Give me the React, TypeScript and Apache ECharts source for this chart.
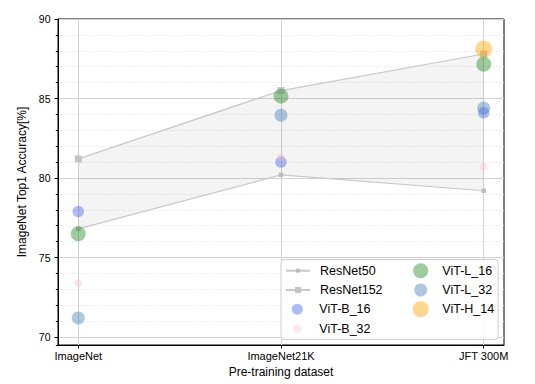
import React, { useEffect, useRef } from 'react';
import * as echarts from 'echarts';

const datasets = ['ImageNet', 'ImageNet21K', 'JFT 300M'];
const resnet50 = [76.8, 80.2, 79.2];
const resnet152 = [81.2, 85.5, 87.8];
const vitB16 = [77.9, 81.0, 84.1];
const vitB32 = [73.4, 81.3, 80.7];
const vitL16 = [76.5, 85.15, 87.15];
const vitL32 = [71.2, 83.95, 84.4];
const vitH14: (number | null)[] = [null, null, 88.1];
const yTickValues = [70, 75, 80, 85, 90];
const xTickValues = [0, 1, 2];

const FONT = 'Liberation Sans, Arial, sans-serif';

const toPoints = (vals: (number | null)[]) =>
  vals.map((v, i) => (v == null ? null : [i, v])).filter((p) => p !== null);

export default function App() {
  const ref = useRef<HTMLDivElement>(null);
  useEffect(() => {
    if (!ref.current) return;
    const chart = echarts.init(ref.current, null, { renderer: 'svg' });

    const scatter = (name: string, vals: (number | null)[], color: string, size: number, z: number) => ({
      name,
      type: 'scatter',
      data: toPoints(vals),
      symbol: 'circle',
      symbolSize: size,
      itemStyle: { color },
      z,
      silent: true,
    });

    const textStyle = (pad: number) => ({
      fontFamily: FONT,
      fontSize: 12.5,
      color: '#000',
      lineHeight: 14,
      padding: [0, 0, 0, pad],
    });
    const lineLegend = (name: string, x0: number, cy: number, h: number) => ({
      data: [{ name }],
      left: x0,
      top: cy - Math.max(h, 14) / 2,
      orient: 'vertical',
      itemWidth: 24,
      itemHeight: h,
      padding: 0,
      selectedMode: false,
      z: 10,
      textStyle: textStyle(5),
    });
    const circleLegend = (name: string, cx: number, textX: number, cy: number, h: number) => ({
      data: [{ name, icon: 'circle' }],
      left: cx - h / 2,
      top: cy - Math.max(h, 14) / 2,
      orient: 'vertical',
      itemWidth: h,
      itemHeight: h,
      padding: 0,
      selectedMode: false,
      z: 10,
      textStyle: textStyle(textX - (cx + h / 2 + 5)),
    });

    const option: any = {
      animation: false,
      backgroundColor: '#fff',
      grid: {
        left: 58,
        right: 31,
        top: 19,
        bottom: 39,
        show: true,
        borderColor: '#000',
        borderWidth: 1,
        backgroundColor: 'transparent',
        outerBoundsMode: 'none',
        containLabel: false,
      },
      xAxis: {
        type: 'value',
        min: -0.1,
        max: 2.1,
        splitNumber: 2,
        name: 'Pre-training dataset',
        nameLocation: 'middle',
        nameGap: 18,
        nameTextStyle: { fontFamily: FONT, fontSize: 12, color: '#000' },
        axisLine: { show: true, onZero: false, lineStyle: { color: '#000', width: 1 } },
        axisTick: { show: true, length: 3.5, lineStyle: { color: '#000' }, customValues: xTickValues },
        axisLabel: {
          fontFamily: FONT,
          fontSize: 11,
          color: '#000',
          margin: 5,
          customValues: xTickValues,
          formatter: (v: number) => (Number.isInteger(v) && datasets[v] ? datasets[v] : ''),
        },
        splitLine: { show: true, lineStyle: { color: '#d3d3d3', width: 1 } },
      },
      yAxis: [
        {
          type: 'value',
          min: 69.5,
          max: 90,
          splitNumber: 5,
          name: 'ImageNet Top1 Accuracy[%]',
          nameLocation: 'middle',
          nameGap: 23,
          nameTextStyle: { fontFamily: FONT, fontSize: 12, color: '#000' },
          axisLine: { show: true, onZero: false, lineStyle: { color: '#000', width: 1 } },
          axisTick: { show: true, length: 3.5, lineStyle: { color: '#000' }, customValues: yTickValues },
          axisLabel: {
            fontFamily: FONT,
            fontSize: 10.5,
            color: '#000',
            margin: 7.5,
            customValues: yTickValues,
            formatter: (v: number) => (yTickValues.includes(v) ? String(v) : ''),
          },
          splitLine: { show: true, lineStyle: { color: '#d3d3d3', width: 1 } },
          z: 1,
        },
        {
          type: 'value',
          min: 69.5,
          max: 90,
          splitNumber: 20,
          position: 'left',
          offset: 0,
          axisLine: { show: false, onZero: false },
          axisTick: { show: true, length: 2.2, lineStyle: { color: '#000', width: 1 } },
          axisLabel: { show: false },
          splitLine: { show: true, lineStyle: { color: '#e3e3e3', width: 0.8, type: [1.5, 2] } },
          z: 0,
        },
      ],
      legend: [
        lineLegend('ResNet50', 285, 270.7, 5),
        lineLegend('ResNet152', 285, 290, 7.5),
        circleLegend('ViT-B_16', 297.3, 319.3, 309.3, 11),
        circleLegend('ViT-B_32', 297.3, 319.3, 328.7, 8),
        circleLegend('ViT-L_16', 420.7, 442.3, 270.7, 15),
        circleLegend('ViT-L_32', 420.7, 442.3, 290, 13),
        circleLegend('ViT-H_14', 420.7, 442.3, 309.3, 16),
      ],
      graphic: [
        {
          type: 'rect',
          z: 5,
          silent: true,
          shape: { x: 281, y: 259.5, width: 217, height: 80, r: 3 },
          style: { fill: 'rgba(255,255,255,0.85)', stroke: '#cfcfcf', lineWidth: 1 },
        },
      ],
      series: [
        {
          type: 'custom',
          name: 'band',
          silent: true,
          z: 1,
          data: [[0, 0]],
          renderItem: (_params: any, api: any) => {
            const lower = resnet50.map((v, i) => api.coord([i, v]));
            const upper = resnet152.map((v, i) => api.coord([i, v])).reverse();
            return {
              type: 'polygon',
              shape: { points: [...lower, ...upper] },
              style: { fill: 'rgba(0,0,0,0.045)' },
            };
          },
        },
        {
          name: 'ResNet50',
          type: 'line',
          data: toPoints(resnet50),
          symbol: 'rect',
          symbolSize: 4.5,
          showSymbol: true,
          lineStyle: { color: '#c8c8c8', width: 1.2 },
          itemStyle: { color: '#bdbdbd' },
          z: 2,
          silent: true,
        },
        {
          name: 'ResNet152',
          type: 'line',
          data: toPoints(resnet152),
          symbol: 'rect',
          symbolSize: 7,
          showSymbol: true,
          lineStyle: { color: '#c8c8c8', width: 1.2 },
          itemStyle: { color: '#c4c4c4' },
          z: 2,
          silent: true,
        },
        scatter('ViT-B_16', vitB16, 'rgba(65,105,225,0.55)', 11.5, 4),
        scatter('ViT-B_32', vitB32, 'rgba(255,182,193,0.45)', 8, 4),
        scatter('ViT-L_16', vitL16, 'rgba(34,139,34,0.55)', 15, 3),
        scatter('ViT-L_32', vitL32, 'rgba(70,130,180,0.55)', 13, 3),
        scatter('ViT-H_14', vitH14, 'rgba(255,165,0,0.55)', 17, 3),
      ],
    };
    chart.setOption(option);
    return () => chart.dispose();
  }, []);
  return (
    <div
      ref={ref}
      style={{ position: 'fixed', left: 0, top: 0, width: 535, height: 384, background: '#fff' }}
    />
  );
}
